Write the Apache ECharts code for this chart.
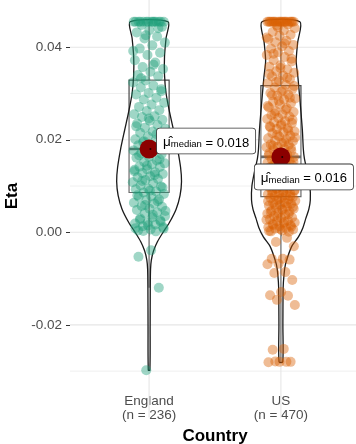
<!DOCTYPE html>
<html>
<head>
<meta charset="utf-8">
<script src="https://cdn.jsdelivr.net/npm/echarts@6/dist/echarts.min.js"></script>
<style>
  html, body { margin: 0; padding: 0; background: #fff; }
  #chart { width: 356px; height: 444px; }
</style>
</head>
<body>
<div id="chart"></div>
<script>
const categories = ['England', 'US'];
const sampleSizes = [236, 470];
const yTicks = [-0.02, 0, 0.02, 0.04];
const yMinorGrid = [-0.03, -0.01, 0.01, 0.03];

// Eta values (a readable subset of each group)
const englandEta = [
  0.0455, 0.0455, 0.0455, 0.0455, 0.0455, 0.0455, 0.0455, 0.0455, 0.0455, 0.0455, 0.0455, 0.0455, 0.0455, 0.0455,
  0.0448, 0.0444, 0.0437, 0.0432, 0.0423, 0.0419, 0.0410, 0.0404,
  0.0397, 0.0388, 0.0383, 0.0372, 0.0367, 0.0357, 0.0353,
  0.0347, 0.0340, 0.0337, 0.0328, 0.0324, 0.0317, 0.0313, 0.0305, 0.0301,
  0.0298, 0.0291, 0.0287, 0.0280, 0.0276, 0.0271, 0.0264, 0.0262, 0.0255, 0.0251,
  0.0249, 0.0243, 0.0241, 0.0235, 0.0232, 0.0226, 0.0224, 0.0218, 0.0215, 0.0209, 0.0207, 0.0201,
  0.0199, 0.0195, 0.0194, 0.0189, 0.0188, 0.0183, 0.0181, 0.0177, 0.0176, 0.0171, 0.0169, 0.0163, 0.0161, 0.0155, 0.0152,
  0.0149, 0.0147, 0.0142, 0.0141, 0.0136, 0.0135, 0.0130, 0.0128, 0.0126, 0.0121, 0.0119, 0.0115, 0.0113, 0.0108, 0.0106, 0.0101,
  0.0099, 0.0094, 0.0093, 0.0088, 0.0086, 0.0083, 0.0078, 0.0077, 0.0071, 0.0070, 0.0064, 0.0062, 0.0057, 0.0055, 0.0051,
  0.0048, 0.0043, 0.0041, 0.0035, 0.0032, 0.0027, 0.0026, 0.0021, 0.0019, 0.0017, 0.0013, 0.0011, 0.0006, 0.0004,
  0.0441, 0.0426, 0.0392, 0.0362, 0.0333, 0.0309, 0.0246, 0.0229, 0.0212, 0.0197, 0.0185, 0.0173, 0.0166, 0.0158,
  0.0144, 0.0132, 0.0124, 0.0111, 0.0097, 0.0090, 0.0080, 0.0067, 0.0059, 0.0046, 0.0038, 0.0030, 0.0023, 0.0015,
  0.0009, 0.0002, 0.0003, 0.0008,
  -0.0039, -0.0053, -0.0120, -0.0298
];
const usEta = [
  0.0455, 0.0455, 0.0455, 0.0455, 0.0455, 0.0455, 0.0455, 0.0455, 0.0455, 0.0455, 0.0455, 0.0455, 0.0455, 0.0455, 0.0455, 0.0455, 0.0455, 0.0455,
  0.0449, 0.0447, 0.0441, 0.0436, 0.0433, 0.0427, 0.0425, 0.0418, 0.0414, 0.0411, 0.0405, 0.0402,
  0.0397, 0.0392, 0.0389, 0.0383, 0.0379, 0.0372, 0.0369, 0.0361, 0.0358, 0.0352,
  0.0348, 0.0345, 0.0339, 0.0337, 0.0331, 0.0328, 0.0322, 0.0319, 0.0313, 0.0310, 0.0304, 0.0301,
  0.0298, 0.0295, 0.0289, 0.0287, 0.0282, 0.0279, 0.0276, 0.0270, 0.0268, 0.0262, 0.0260, 0.0255, 0.0253, 0.0250,
  0.0247, 0.0245, 0.0240, 0.0238, 0.0236, 0.0231, 0.0229, 0.0225, 0.0223, 0.0218, 0.0216, 0.0214, 0.0209, 0.0207, 0.0203, 0.0201,
  0.0198, 0.0197, 0.0193, 0.0190, 0.0189, 0.0185, 0.0184, 0.0180, 0.0178, 0.0176, 0.0172, 0.0171, 0.0168, 0.0164, 0.0163, 0.0159, 0.0158, 0.0154, 0.0153, 0.0150,
  0.0149, 0.0148, 0.0145, 0.0142, 0.0141, 0.0139, 0.0135, 0.0134, 0.0131, 0.0130, 0.0127, 0.0124, 0.0124, 0.0121, 0.0118, 0.0117, 0.0114, 0.0111, 0.0110, 0.0107, 0.0106, 0.0103, 0.0101, 0.0100,
  0.0098, 0.0097, 0.0094, 0.0093, 0.0091, 0.0089, 0.0088, 0.0085, 0.0084, 0.0082, 0.0080, 0.0079, 0.0076, 0.0075, 0.0074, 0.0071, 0.0070, 0.0068, 0.0065, 0.0064, 0.0062, 0.0059, 0.0058, 0.0056, 0.0053, 0.0051,
  0.0049, 0.0047, 0.0045, 0.0042, 0.0040, 0.0038, 0.0035, 0.0032, 0.0031, 0.0028, 0.0025, 0.0024, 0.0021, 0.0019, 0.0018, 0.0015, 0.0013, 0.0011, 0.0009, 0.0008, 0.0006, 0.0004, 0.0002, 0.0001,
  0.0443, 0.0421, 0.0408, 0.0386, 0.0375, 0.0355, 0.0342, 0.0334, 0.0325, 0.0316, 0.0307, 0.0296, 0.0291, 0.0284, 0.0273, 0.0265, 0.0257,
  0.0243, 0.0234, 0.0227, 0.0220, 0.0211, 0.0205, 0.0195, 0.0187, 0.0182, 0.0174, 0.0166, 0.0161, 0.0156, 0.0152,
  0.0146, 0.0140, 0.0137, 0.0133, 0.0128, 0.0122, 0.0119, 0.0115, 0.0109, 0.0104, 0.0099, 0.0095, 0.0090, 0.0087, 0.0083,
  0.0078, 0.0072, 0.0067, 0.0063, 0.0060, 0.0055, 0.0050, 0.0044, 0.0039, 0.0033, 0.0027, 0.0022, 0.0016, 0.0012, 0.0007, 0.0003,
  -0.0012, -0.0021, -0.0030, -0.0057, -0.0057, -0.0059, -0.0068, -0.0069, -0.0086, -0.0088, -0.0103,
  -0.0129, -0.0136, -0.0137, -0.0146, -0.0157, -0.0252, -0.0254, -0.0280, -0.0280, -0.0281, -0.0280, -0.0279
];

// boxplot stats: [lower whisker, Q1, median, Q3, upper whisker]
const englandBox = [-0.0120, 0.0086, 0.0180, 0.0329, 0.0455];
const usBox = [-0.0280, 0.0077, 0.0163, 0.0317, 0.0455];

// violin outline: eta levels (top to bottom) and half widths in category units
const englandViolinEta = [0.0455, 0.042, 0.038, 0.034, 0.030, 0.026, 0.022, 0.018, 0.014, 0.011, 0.008, 0.005, 0.002, 0.000, -0.002, -0.004, -0.006, -0.008, -0.012, -0.020, -0.0298];
const englandViolinWidth = [0.144, 0.129, 0.117, 0.117, 0.129, 0.155, 0.186, 0.216, 0.239, 0.246, 0.235, 0.205, 0.152, 0.106, 0.064, 0.034, 0.017, 0.011, 0.009, 0.008, 0.006];
const usViolinEta = [0.0455, 0.041, 0.037, 0.0335, 0.030, 0.026, 0.022, 0.018, 0.016, 0.013, 0.010, 0.007, 0.005, 0.003, 0.001, -0.001, -0.003, -0.005, -0.007, -0.009, -0.012, -0.020, -0.028];
const usViolinWidth = [0.144, 0.127, 0.116, 0.129, 0.140, 0.152, 0.163, 0.170, 0.178, 0.201, 0.220, 0.223, 0.212, 0.189, 0.167, 0.133, 0.083, 0.055, 0.034, 0.024, 0.017, 0.015, 0.014];

const colors = ['#1B9E77', '#D95F02'];
const font = 'Liberation Sans';

const chart = echarts.init(document.getElementById('chart'));

// spread points sideways like geom_jitter
const jit = i => (((i + 1) * 0.6180339887) % 1) * 2 - 1;

function pointsSeries(idx, values, spread) {
  return {
    type: 'scatter',
    data: values.map((v, i) => [idx + 1 + jit(i) * spread, v]),
    symbolSize: 10,
    itemStyle: { color: colors[idx], opacity: 0.42 },
    silent: true
  };
}

function violinSeries(idx, etas, widths) {
  return {
    type: 'custom',
    data: [[idx + 1]],
    silent: true,
    renderItem: (params, api) => {
      const cx = idx + 1;
      const right = etas.map((e, i) => api.coord([cx + widths[i], e]));
      const left = etas.map((e, i) => api.coord([cx - widths[i], e])).reverse();
      return {
        type: 'polygon',
        shape: { points: right.concat(left), smooth: 0.25 },
        style: { fill: 'rgba(255,255,255,0.2)', stroke: '#1a1a1a', lineWidth: 1.3 }
      };
    }
  };
}

const gridSeries = {
  type: 'custom',
  data: [[0]],
  silent: true,
  renderItem: (params, api) => {
    const lines = [];
    yMinorGrid.forEach(v => {
      const a = api.coord([0.4, v]), b = api.coord([2.6, v]);
      lines.push({ type: 'line', shape: { x1: a[0], y1: a[1], x2: b[0], y2: b[1] }, style: { stroke: '#EDEDED', lineWidth: 0.9 } });
    });
    yTicks.forEach(v => {
      const a = api.coord([0.4, v]), b = api.coord([2.6, v]);
      lines.push({ type: 'line', shape: { x1: a[0], y1: a[1], x2: b[0], y2: b[1] }, style: { stroke: '#E6E6E6', lineWidth: 1.1 } });
    });
    categories.forEach((c, i) => {
      const a = api.coord([i + 1, -0.04]), b = api.coord([i + 1, 0.06]);
      lines.push({ type: 'line', shape: { x1: a[0], y1: a[1], x2: b[0], y2: b[1] }, style: { stroke: '#E6E6E6', lineWidth: 1.1 } });
    });
    return { type: 'group', children: lines };
  }
};

const boxSeries = {
  type: 'custom',
  data: [englandBox, usBox].map((b, i) => [i + 1].concat(b)),
  silent: true,
  renderItem: (params, api) => {
    const x = api.value(0);
    const half = 0.152;
    const lo = api.coord([x, api.value(1)]);
    const q1r = api.coord([x + half, api.value(2)]);
    const medl = api.coord([x - half, api.value(3)]);
    const medr = api.coord([x + half, api.value(3)]);
    const q3l = api.coord([x - half, api.value(4)]);
    const hi = api.coord([x, api.value(5)]);
    const q3c = api.coord([x, api.value(4)]);
    const q1c = api.coord([x, api.value(2)]);
    const st = { stroke: '#474747', lineWidth: 1.2, fill: null };
    return {
      type: 'group',
      children: [
        { type: 'line', shape: { x1: hi[0], y1: hi[1], x2: q3c[0], y2: q3c[1] }, style: st },
        { type: 'line', shape: { x1: lo[0], y1: lo[1], x2: q1c[0], y2: q1c[1] }, style: st },
        { type: 'rect', shape: { x: q3l[0], y: q3l[1], width: q1r[0] - q3l[0], height: q1r[1] - q3l[1] },
          style: { fill: 'rgba(255,255,255,0.2)', stroke: '#474747', lineWidth: 1.2 } },
        { type: 'line', shape: { x1: medl[0], y1: medl[1], x2: medr[0], y2: medr[1] }, style: { stroke: '#444', lineWidth: 2.6 } }
      ]
    };
  }
};

const labelOffsets = [[57, -8], [23, 20]];

const medianSeries = {
  type: 'scatter',
  data: [englandBox, usBox].map((b, i) => ({
    value: [i + 1, b[2]],
    label: { offset: labelOffsets[i] }
  })),
  symbolSize: 19,
  itemStyle: { color: '#8B0000', opacity: 1 },
  z: 5,
  label: {
    show: true,
    position: 'inside',
    formatter: p => '{mu|μ\u0302}{sub|median}{eq| = ' + p.value[1].toFixed(3) + '}',
    backgroundColor: '#fff',
    borderColor: '#333',
    borderWidth: 0.8,
    borderRadius: 3,
    padding: [5, 6, 4, 6],
    rich: {
      mu: { fontFamily: font, fontSize: 13.5, color: '#000', lineHeight: 16, verticalAlign: 'bottom' },
      sub: { fontFamily: font, fontSize: 9.5, color: '#000', lineHeight: 16, verticalAlign: 'bottom', padding: [5, 0, 0, 0] },
      eq: { fontFamily: font, fontSize: 13, color: '#000', lineHeight: 16, verticalAlign: 'bottom' }
    }
  },
  silent: true
};

const centerDots = {
  type: 'scatter',
  data: [englandBox, usBox].map((b, i) => [i + 1 + 0.01, b[2]]),
  symbolSize: 2,
  itemStyle: { color: '#000' },
  z: 5,
  silent: true
};

chart.setOption({
  animation: false,
  textStyle: { fontFamily: font },
  grid: { left: 70, top: 4, width: 290, height: 384, outerBoundsMode: 'none', containLabel: false },
  xAxis: {
    type: 'value',
    min: 0.4,
    max: 2.6,
    axisLine: { show: false },
    splitLine: { show: false },
    axisTick: { show: true, customValues: [1, 2], length: 4, lineStyle: { color: '#333' } },
    axisLabel: {
      customValues: [1, 2],
      formatter: v => {
        const i = Math.round(v) - 1;
        return categories[i] + '\n(n = ' + sampleSizes[i] + ')';
      },
      color: '#4D4D4D', fontSize: 13.5, lineHeight: 13.5, margin: 7, fontFamily: font
    },
    name: 'Country',
    nameLocation: 'middle',
    nameGap: 40,
    nameTextStyle: { fontSize: 17, fontWeight: 'bold', color: '#000', fontFamily: font }
  },
  yAxis: {
    type: 'value',
    min: -0.03365,
    max: 0.04934,
    axisLine: { show: false },
    splitLine: { show: false },
    axisTick: { show: true, customValues: yTicks, length: 4, lineStyle: { color: '#333' } },
    axisLabel: {
      customValues: yTicks,
      formatter: v => v.toFixed(2),
      color: '#4D4D4D', fontSize: 13.5, margin: 8, fontFamily: font
    },
    name: 'Eta',
    nameLocation: 'middle',
    nameGap: 40,
    nameTextStyle: { fontSize: 17, fontWeight: 'bold', color: '#000', fontFamily: font }
  },
  series: [
    gridSeries,
    pointsSeries(0, englandEta, 0.125),
    pointsSeries(1, usEta, 0.11),
    boxSeries,
    violinSeries(0, englandViolinEta, englandViolinWidth),
    violinSeries(1, usViolinEta, usViolinWidth),
    medianSeries,
    centerDots
  ]
});
</script>
</body>
</html>
